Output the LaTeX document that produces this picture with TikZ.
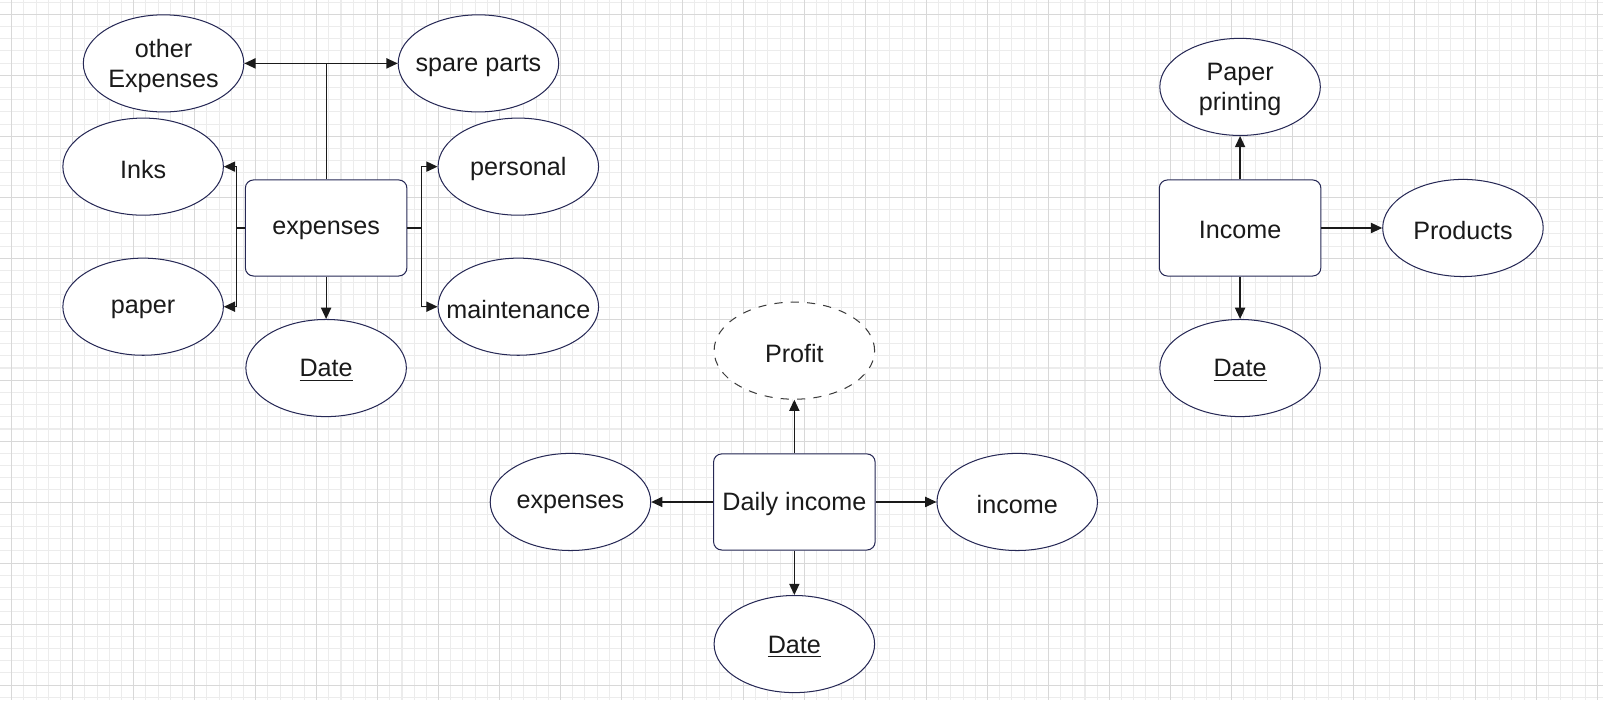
\documentclass[tikz,border=0pt]{standalone}
\usepackage{fontspec}
\setmainfont{Liberation Sans}
\usetikzlibrary{shapes.geometric,arrows.meta}
\definecolor{navy}{RGB}{38,40,85}
\definecolor{gridminor}{RGB}{236,236,236}
\definecolor{gridmajor}{RGB}{216,216,216}
\definecolor{ink}{RGB}{26,26,26}
\tikzset{
  lbl/.style={align=center, text=ink, inner sep=0pt, yshift=-1.2pt, font=\fontsize{12.3}{15}\selectfont},
  attr/.style={ellipse, draw=navy, line width=0.5pt, fill=white, minimum width=78.5pt, minimum height=47.5pt, inner sep=0pt, label={[lbl]center:#1}},
  dashattr/.style={attr=#1, draw=ink!85, dash pattern=on 4pt off 4pt},
  entbox/.style={rectangle, rounded corners=4pt, draw=navy, line width=0.5pt, fill=white, minimum width=79pt, minimum height=47pt, inner sep=0pt, label={[lbl]center:#1}},
  conn/.style={draw=ink, line width=0.6pt, -{Triangle[length=5.5pt,width=5pt]}},
  plain/.style={draw=ink, line width=0.6pt},
  gminor/.style={draw=gridminor, line width=0.5pt},
  gmajor/.style={draw=gridmajor, line width=0.5pt}
}
\begin{document}
\begin{tikzpicture}[x=0.5pt, y=-0.5pt]
\useasboundingbox (0,0) rectangle (1568,684.8);
\fill[white] (0,0) rectangle (1568,684.8);
% grid
\foreach \i in {0,...,130} {\draw[gminor] ({11.45+11.93*\i},0) -- ({11.45+11.93*\i},684.8);}
\foreach \i in {0,...,57} {\draw[gminor] (0,{2.07+11.93*\i}) -- (1568,{2.07+11.93*\i});}
\foreach \i in {0,...,26} {\draw[gmajor] ({11.45+59.67*\i},0) -- ({11.45+59.67*\i},684.8);}
\foreach \i in {0,...,11} {\draw[gmajor] (0,{14.0+59.67*\i}) -- (1568,{14.0+59.67*\i});}

% expenses cluster
\node[attr={other\\Expenses}] (oth) at (160,62) {};
\node[attr={spare parts}] (spare) at (468,62) {};
\node[attr={Inks}] (inks) at (140,163) {};
\node[attr={personal}] (pers) at (507,163) {};
\node[entbox={expenses}] (expbox) at (319,223) {};
\node[attr={paper}] (paper) at (140,300) {};
\node[attr={maintenance}] (maint) at (507,300) {};
\node[attr={\underline{Date}}] (date1) at (319,360) {};

\coordinate (jt) at (319,62);
\coordinate (jl) at (231,223);
\coordinate (jr) at (412,223);
\draw[plain] (expbox.north) -- (jt);
\draw[conn] (jt) -- (oth.east);
\draw[conn] (jt) -- (spare.west);
\draw[plain] (expbox.west) -- (jl);
\draw[conn] (jl) |- (inks.east);
\draw[conn] (jl) |- (paper.east);
\draw[plain] (expbox.east) -- (jr);
\draw[conn] (jr) |- (pers.west);
\draw[conn] (jr) |- (maint.west);
\draw[conn] (expbox.south) -- (date1.north);

% daily income cluster
\node[dashattr={Profit}] (profit) at (777,343) {};
\node[entbox={Daily income}] (daily) at (777,491) {};
\node[attr={expenses}] (exp2) at (558,491) {};
\node[attr={income}] (inc) at (995,491) {};
\node[attr={\underline{Date}}] (date2) at (777,630) {};
\draw[conn] (daily.north) -- (profit.south);
\draw[conn] (daily.west) -- (exp2.east);
\draw[conn] (daily.east) -- (inc.west);
\draw[conn] (daily.south) -- (date2.north);

% income cluster
\node[attr={Paper\\printing}] (pp) at (1213,85) {};
\node[entbox={Income}] (incbox) at (1213,223) {};
\node[attr={Products}] (prod) at (1431,223) {};
\node[attr={\underline{Date}}] (date3) at (1213,360) {};
\draw[conn] (incbox.north) -- (pp.south);
\draw[conn] (incbox.east) -- (prod.west);
\draw[conn] (incbox.south) -- (date3.north);
\end{tikzpicture}
\end{document}
